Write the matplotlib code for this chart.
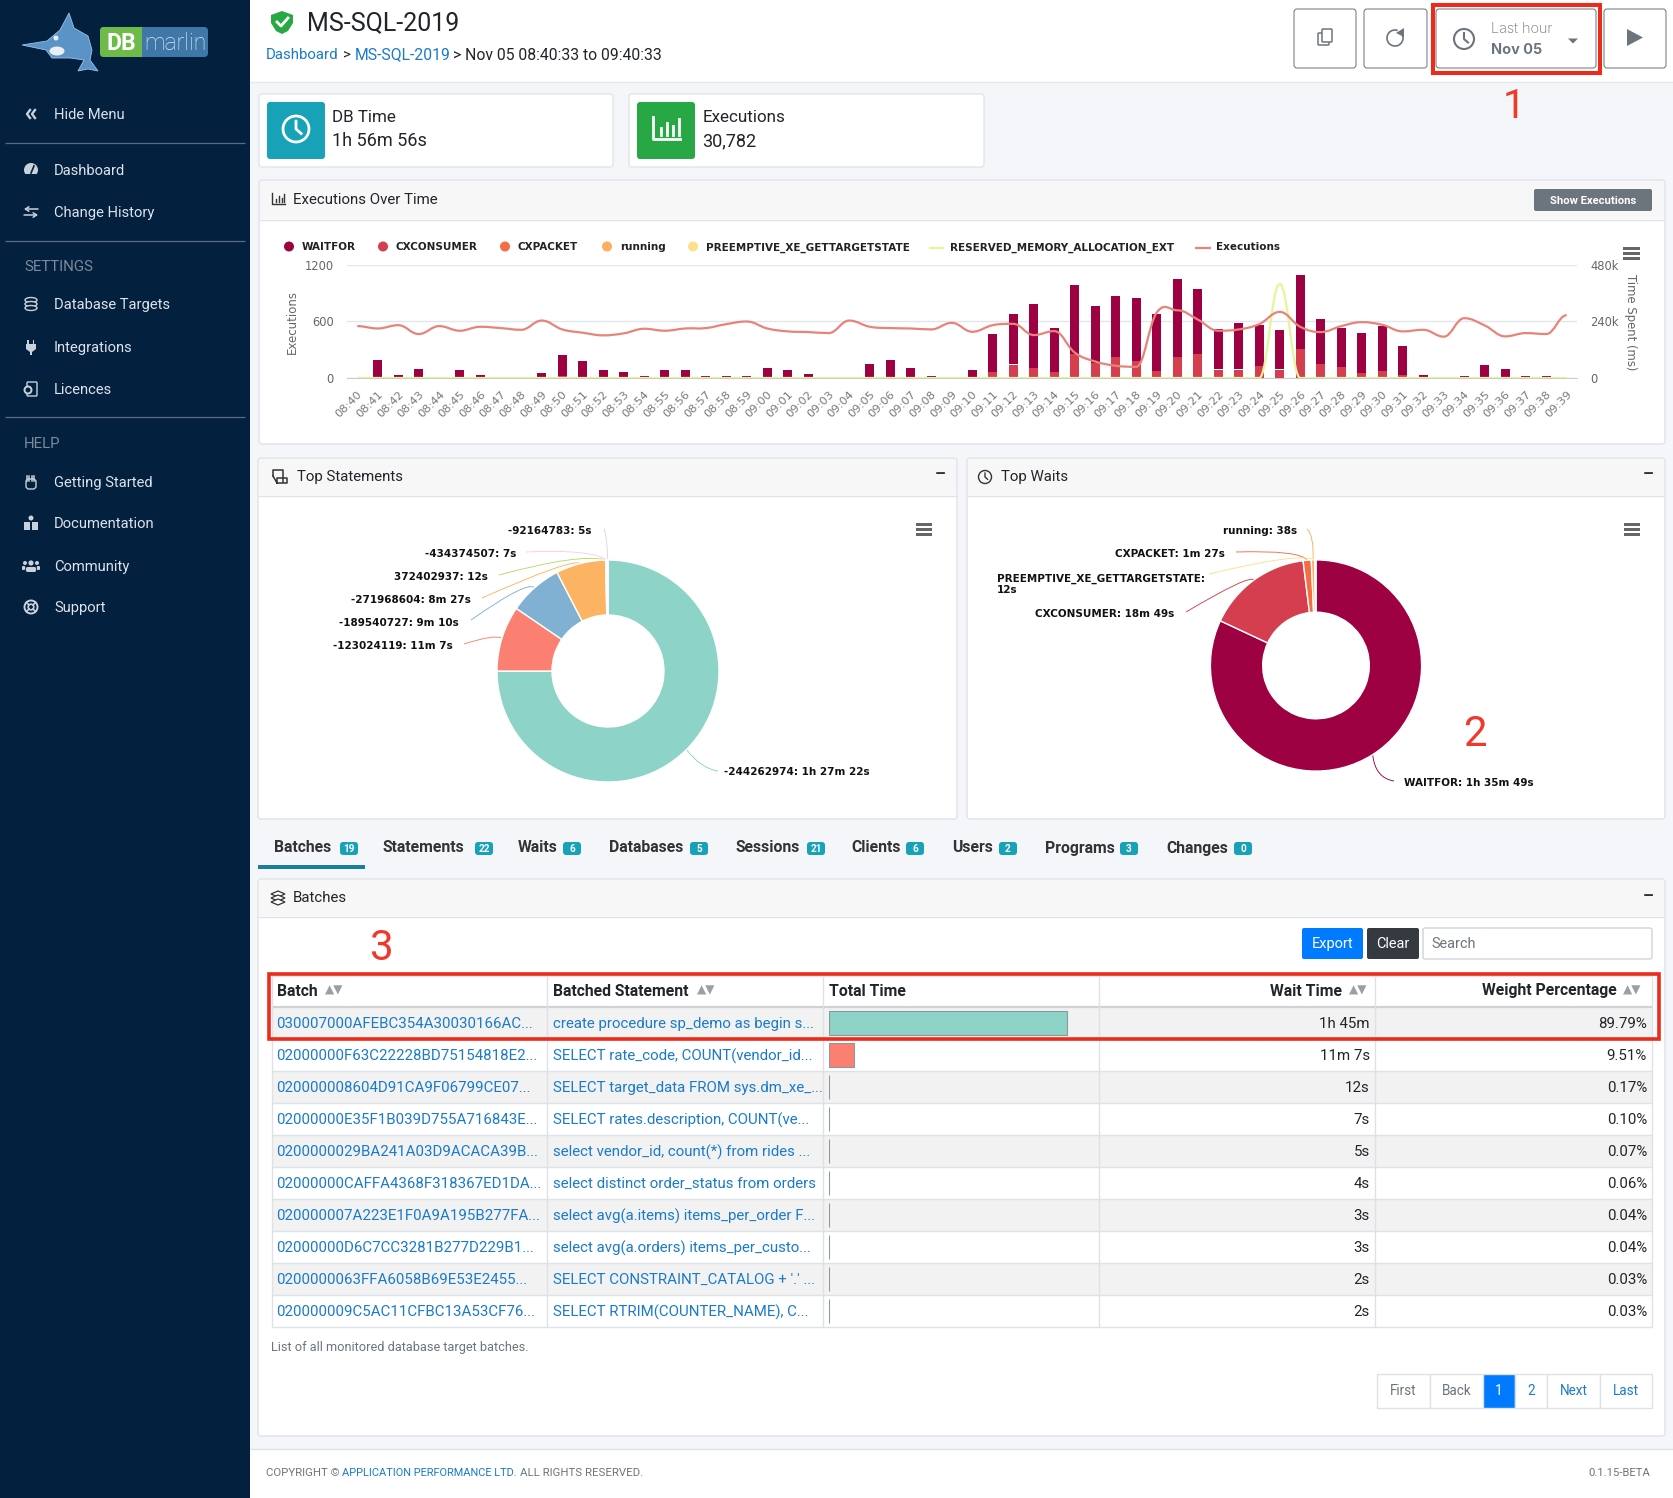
import matplotlib
matplotlib.use("Agg")
import matplotlib.pyplot as plt
import numpy as np
from matplotlib.patches import Rectangle, FancyBboxPatch, Circle, Ellipse, Polygon, PathPatch, Arc
from matplotlib.path import Path

W, H = 1674, 1498
UI = "Roboto"
CHART = "DejaVu Sans"
BLUE = "#1a7bc9"
DARK = "#212529"
SIDE = "#03203f"
ICON = "#c9d1da"

# chart data
minutes = ["08:40", "08:41", "08:42", "08:43", "08:44", "08:45", "08:46", "08:47", "08:48", "08:49",
           "08:50", "08:51", "08:52", "08:53", "08:54", "08:55", "08:56", "08:57", "08:58", "08:59",
           "09:00", "09:01", "09:02", "09:03", "09:04", "09:05", "09:06", "09:07", "09:08", "09:09",
           "09:10", "09:11", "09:12", "09:13", "09:14", "09:15", "09:16", "09:17", "09:18", "09:19",
           "09:20", "09:21", "09:22", "09:23", "09:24", "09:25", "09:26", "09:27", "09:28", "09:29",
           "09:30", "09:31", "09:32", "09:33", "09:34", "09:35", "09:36", "09:37", "09:38", "09:39"]
cxconsumer = [0, 1, 0, 1, 0, 1, 1, 0, 0, 1, 8, 1, 1, 1, 0, 1, 1, 0, 0, 0,
              1, 1, 0, 0, 0, 1, 1, 1, 0, 0, 1, 24, 56, 42, 24, 100, 63, 88, 72, 28,
              88, 100, 36, 36, 49, 36, 122, 58, 45, 20, 28, 11, 0, 0, 0, 1, 1, 0, 0, 0]
waitfor = [0, 72, 14, 34, 0, 30, 9, 0, 0, 17, 90, 68, 30, 21, 10, 30, 30, 10, 10, 10,
           38, 30, 18, 0, 0, 59, 72, 42, 10, 0, 30, 163, 215, 271, 188, 293, 242, 259, 266, 243,
           330, 276, 172, 197, 176, 168, 313, 192, 167, 171, 192, 125, 14, 0, 10, 51, 34, 8, 8, 0]
reserved_memory = [0] * 45 + [400] + [0] * 14
executions = [551, 526, 561, 467, 551, 502, 544, 530, 512, 610, 516, 481, 453, 474, 523, 502, 526, 530, 572, 600,
              526, 495, 488, 477, 610, 544, 530, 526, 516, 586, 491, 561, 575, 456, 498, 270, 175, 130, 119, 695,
              719, 621, 502, 516, 572, 702, 544, 488, 551, 593, 565, 495, 512, 439, 635, 558, 442, 477, 467, 667]
legend_names = ["WAITFOR", "CXCONSUMER", "CXPACKET", "running", "PREEMPTIVE_XE_GETTARGETSTATE"]
legend_colors = ["#9e0142", "#d53e4f", "#f46d43", "#fdae61", "#fee08b"]

stmt_labels = ["-244262974: 1h 27m 22s", "-123024119: 11m 7s", "-189540727: 9m 10s", "-271968604: 8m 27s",
               "372402937: 12s", "-434374507: 7s", "-92164783: 5s"]
stmt_seconds = [5242, 667, 550, 507, 12, 7, 5]
stmt_colors = ["#8dd3c7", "#fb8072", "#80b1d3", "#fdb462", "#b3de69", "#fccde5", "#d9d9d9"]

wait_labels = ["WAITFOR: 1h 35m 49s", "CXCONSUMER: 18m 49s", "CXPACKET: 1m 27s", "running: 38s",
               "PREEMPTIVE_XE_GETTARGETSTATE:\n12s"]
wait_seconds = [5749, 1129, 87, 38, 12]
wait_colors = ["#9e0142", "#d53e4f", "#f46d43", "#fdae61", "#fee08b"]

tab_names = ["Batches", "Statements", "Waits", "Databases", "Sessions", "Clients", "Users", "Programs", "Changes"]
tab_counts = [19, 22, 6, 5, 21, 6, 2, 3, 0]

batches = ["030007000AFEBC354A30030166AC...", "02000000F63C22228BD75154818E2...", "020000008604D91CA9F06799CE07...",
           "02000000E35F1B039D755A716843E...", "0200000029BA241A03D9ACACA39B...", "02000000CAFFA4368F318367ED1DA...",
           "020000007A223E1F0A9A195B277FA...", "02000000D6C7CC3281B277D229B1...", "0200000063FFA6058B69E53E2455...",
           "020000009C5AC11CFBC13A53CF76..."]
statements = ["create procedure sp_demo as begin s...", "SELECT rate_code, COUNT(vendor_id...",
              "SELECT target_data FROM sys.dm_xe_...", "SELECT rates.description, COUNT(ve...",
              "select vendor_id, count(*) from rides ...", "select distinct order_status from orders",
              "select avg(a.items) items_per_order F...", "select avg(a.orders) items_per_custo...",
              "SELECT CONSTRAINT_CATALOG + '.' ...", "SELECT RTRIM(COUNTER_NAME), C..."]
wait_times = ["1h 45m", "11m 7s", "12s", "7s", "5s", "4s", "3s", "3s", "2s", "2s"]
weights = [89.79, 9.51, 0.17, 0.10, 0.07, 0.06, 0.04, 0.04, 0.03, 0.03]
bar_colors = ["#8dd3c7", "#fb8072"] + ["#8a8f94"] * 8

fig = plt.figure(figsize=(W / 100, H / 100), dpi=100, facecolor="#f4f6f9")
bg = fig.add_axes([0, 0, 1, 1])
bg.set_xlim(0, W)
bg.set_ylim(H, 0)
bg.axis("off")


def px_axes(x0, y0, x1, y1):
    ax = fig.add_axes([x0 / W, 1 - y1 / H, (x1 - x0) / W, (y1 - y0) / H])
    ax.patch.set_alpha(0)
    ax.set_zorder(5)
    return ax


def tx(x, y, s, px=15, color=DARK, ha="left", va="center", family=UI, **kw):
    if family != CHART:
        y += 1     # Roboto sits a little high when centred
    return bg.text(x, y, s, fontsize=px * 0.72, color=color, ha=ha, va=va, family=family, **kw)


def rect(x0, y0, x1, y1, fc, ec="none", lw=1, z=1):
    bg.add_patch(Rectangle((x0, y0), x1 - x0, y1 - y0, fc=fc, ec=ec, lw=lw, zorder=z))


def rbox(x0, y0, x1, y1, fc, ec="none", lw=1, r=3, z=1):
    bg.add_patch(FancyBboxPatch((x0 + r, y0 + r), x1 - x0 - 2 * r, y1 - y0 - 2 * r,
                                boxstyle=f"round,pad={r},rounding_size={r}", fc=fc, ec=ec, lw=lw, zorder=z))


def hline(x0, x1, y, color, lw=1, z=2):
    bg.plot([x0, x1], [y, y], color=color, lw=lw, zorder=z, solid_capstyle="butt")


def vline(x, y0, y1, color, lw=1, z=2):
    bg.plot([x, x], [y0, y1], color=color, lw=lw, zorder=z, solid_capstyle="butt")


def clock(x, y, r, color, lw=1.5, z=3):
    bg.add_patch(Circle((x, y), r, fc="none", ec=color, lw=lw, zorder=z))
    bg.plot([x, x, x + r * 0.4], [y - r * 0.6, y, y + r * 0.35], color=color, lw=lw, zorder=z)


def bars_icon(x, y, w, h, color, lw=1.2, z=3):
    bg.plot([x, x, x + w], [y, y + h, y + h], color=color, lw=lw, zorder=z)
    for dx, f in zip((0.3, 0.52, 0.74, 0.96), (0.3, 0.55, 0.4, 0.72)):
        bg.plot([x + w * dx] * 2, [y + h * 0.82, y + h * (0.82 - f)], color=color, lw=lw, zorder=z)


def burger(x0, x1, y, color="#666666"):
    for k in range(3):
        rect(x0, y + k * 5, x1, y + k * 5 + 2.6, color, z=4)


def side_icon(name, x, y):
    if name == "Hide Menu":
        for dx in (-4, 1):
            bg.plot([x + dx + 3, x + dx, x + dx + 3], [y - 4, y, y + 4], color=ICON, lw=1.7, zorder=3)
    elif name == "Dashboard":
        bg.add_patch(Circle((x, y), 7, fc=ICON, zorder=3))
        rect(x - 7, y + 4, x + 7, y + 8, SIDE, z=4)
        bg.plot([x, x + 3], [y + 3, y - 4], color=SIDE, lw=1.2, zorder=4)
    elif name == "Change History":
        for d, a, b in ((-3, x + 7, x - 7), (3, x - 7, x + 7)):
            bg.annotate("", (b, y + d), (a, y + d), zorder=3,
                        arrowprops=dict(arrowstyle="->,head_width=0.16,head_length=0.25", color=ICON, lw=1.1,
                                        shrinkA=0, shrinkB=0))
    elif name == "Database Targets":
        for dy in (-4, 0, 4):
            bg.add_patch(Ellipse((x, y + dy), 12, 5, fc=SIDE, ec=ICON, lw=1, zorder=3))
    elif name == "Integrations":
        bg.add_patch(Polygon([(x - 5, y - 3), (x + 5, y - 3), (x + 5, y + 2), (x + 1, y + 5), (x + 1, y + 8),
                              (x - 1, y + 8), (x - 1, y + 5), (x - 5, y + 2)], fc=ICON, zorder=3))
        rect(x - 3.5, y - 7, x - 2, y - 3, ICON, z=3)
        rect(x + 2, y - 7, x + 3.5, y - 3, ICON, z=3)
    elif name == "Licences":
        rbox(x - 4, y - 7, x + 6, y + 7, "none", ec=ICON, lw=1, r=1, z=3)
        bg.add_patch(Circle((x - 3, y + 1), 3.5, fc=SIDE, ec=ICON, lw=1.4, zorder=4))
    elif name == "Getting Started":
        rbox(x - 5, y - 3, x + 5, y + 7, "none", ec=ICON, lw=1, r=3, z=3)
        for dx in (-4, -1.5, 1, 3.5):
            bg.plot([x + dx] * 2, [y - 6, y - 1], color=ICON, lw=1.1, zorder=3)
    elif name == "Documentation":
        bg.add_patch(Circle((x, y - 5), 2.5, fc=ICON, zorder=3))
        rect(x - 7, y - 1, x - 0.7, y + 7, ICON, z=3)
        rect(x + 0.7, y - 1, x + 7, y + 7, ICON, z=3)
    elif name == "Community":
        for dx, r in ((-6, 2), (6, 2), (0, 2.6)):
            bg.add_patch(Circle((x + dx, y - 3), r, fc=ICON, zorder=3))
        rbox(x - 5, y + 1, x + 5, y + 6, ICON, r=1.5, z=3)
        rbox(x - 9, y, x - 5.8, y + 4, ICON, r=1, z=3)
        rbox(x + 5.8, y, x + 9, y + 4, ICON, r=1, z=3)
    elif name == "Support":
        bg.add_patch(Circle((x, y), 6.5, fc="none", ec=ICON, lw=1.4, zorder=3))
        bg.add_patch(Circle((x, y), 2.8, fc="none", ec=ICON, lw=1.2, zorder=3))
        for a in (45, 135, 225, 315):
            c, s = np.cos(np.radians(a)), np.sin(np.radians(a))
            bg.plot([x + 2.8 * c, x + 6.5 * c], [y + 2.8 * s, y + 6.5 * s], color=ICON, lw=1.2, zorder=3)


def smooth_line(ax, xs, ys, color, lw, z=5):
    # bezier through the values, flat at each local peak so nothing overshoots
    slopes = []
    for i in range(len(xs)):
        if i == 0 or i == len(xs) - 1:
            slopes.append(0)
        elif (ys[i] - ys[i - 1]) * (ys[i + 1] - ys[i]) <= 0:
            slopes.append(0)
        else:
            slopes.append((ys[i + 1] - ys[i - 1]) / 2)
    verts, codes = [(xs[0], ys[0])], [Path.MOVETO]
    for i in range(len(xs) - 1):
        verts += [(xs[i] + 0.4, ys[i] + slopes[i] * 0.4), (xs[i + 1] - 0.4, ys[i + 1] - slopes[i + 1] * 0.4),
                  (xs[i + 1], ys[i + 1])]
        codes += [Path.CURVE4] * 3
    ax.add_patch(PathPatch(Path(verts, codes), fc="none", ec=color, lw=lw, zorder=z))


# sidebar
rect(0, 0, 250, H, SIDE, z=1)
bg.add_patch(Polygon([(22, 45), (47, 41), (60, 30), (69, 13), (74, 28), (88, 36), (92, 50), (90, 60), (98, 71),
                      (88, 69), (78, 71), (84, 60), (70, 58), (52, 58), (46, 50)],
                     fc="#5b93c7", ec="#9cc3e6", lw=0.6, zorder=2))
bg.add_patch(Ellipse((57, 51), 15, 9, fc="#e8eef4", zorder=3))
bg.add_patch(Circle((56, 38), 2.5, fc="#e8eef4", zorder=3))
rbox(100, 27, 208, 57, "#3f78a8", r=4, z=2)
rbox(100, 27, 142, 57, "#6fbb4a", r=4, z=3)
rect(136, 27, 142, 57, "#6fbb4a", z=3)
tx(121, 42, "DB", 23, "white", ha="center", weight="bold", zorder=4)
tx(175, 42, "marlin", 23, "#dbe8f2", ha="center", weight="light", zorder=4)
menu = [("Hide Menu", 114), ("Dashboard", 170), ("Change History", 212), ("Database Targets", 304),
        ("Integrations", 347), ("Licences", 389), ("Getting Started", 482), ("Documentation", 523),
        ("Community", 566), ("Support", 607)]
for name, y in menu:
    tx(54, y, name, 14.7, "#dde3ea", zorder=3)
    side_icon(name, 31, y)
for y in (143, 241, 417):
    hline(5, 245, y, "#5a6b7f", 0.9, z=3)
tx(24, 266, "SETTINGS", 15, "#7d8a9a", zorder=3)
tx(24, 443, "HELP", 15, "#7d8a9a", zorder=3)

# top bar
rect(250, 0, W, 82, "white", z=1)
hline(250, W, 82, "#e6e8eb", 1)
bg.add_patch(Polygon([(282, 11), (293, 15), (293, 23), (288, 31), (282, 34), (276, 31), (271, 23), (271, 15)],
                     fc="#28a745", zorder=3))
bg.plot([277, 281, 288], [22, 26, 18], color="white", lw=2, zorder=4)
tx(307, 22, "MS-SQL-2019", 25)
tx(266, 54, "Dashboard", 15, BLUE)
tx(343, 54, ">", 15)
tx(355, 54, "MS-SQL-2019", 15.7, BLUE)
tx(453, 54, "> Nov 05 08:40:33 to 09:40:33", 15.7)
for x0, x1 in ((1294, 1356), (1364, 1427), (1436, 1596), (1604, 1666)):
    rbox(x0, 9, x1, 68, "white", ec="#6b7075", lw=0.7, r=3, z=2)
rect(1433.5, 4.5, 1600, 72.5, "none", ec="#ee2a1a", lw=2.9, z=5)
rbox(1318, 33, 1329, 45, "white", ec="#6c757d", lw=1.1, r=1, z=3)
rbox(1322, 29, 1332, 42, "white", ec="#6c757d", lw=1.1, r=1, z=3)
bg.add_patch(Arc((1395, 38), 16, 16, theta1=-30 + 0, theta2=270 + 20, color="#6c757d", lw=1.2, zorder=3))
bg.add_patch(Polygon([(1404, 28), (1404, 37), (1396, 33)], fc="#6c757d", zorder=3))
clock(1464, 39, 10, "#6c757d")
tx(1491, 28, "Last hour", 14.5, "#6c757d", family="Inter", weight="light", zorder=3)
tx(1491, 49, "Nov 05", 14.5, "#6c757d", family="Inter", weight="bold", zorder=3)
bg.add_patch(Polygon([(1568, 38.5), (1578, 38.5), (1573, 43.5)], fc="#6c757d", zorder=3))
bg.add_patch(Polygon([(1627, 29), (1627, 46), (1643, 37.5)], fc="#6c757d", zorder=3))
tx(1514, 105, "1", 40, "#f0392b", ha="center", zorder=3)

# stat cards
for x0, x1, icon0, icon1, fc, name, val in ((259, 613, 267, 325, "#17a2b8", "DB Time", "1h 56m 56s"),
                                            (629, 984, 637, 695, "#28a745", "Executions", "30,782")):
    rbox(x0, 94, x1, 167, "white", ec="#e2e5e9", r=3, z=1)
    rbox(icon0, 102, icon1, 159, fc, r=3, z=2)
    tx(icon1 + 7.5, 116, name, 17, zorder=3)
    tx(icon1 + 7.5, 140.5, val, 18, zorder=3)
clock(296, 129, 13, "white", lw=2)
bars_icon(653, 117, 27, 22, "white", lw=2)

# chart card
rbox(259, 180, 1665, 444, "white", ec="#dfe3e7", r=3, z=1)
rect(260, 181, 1664, 219, "#f7f7f7", z=2)
hline(259, 1665, 219.5, "#dfe3e7", 1)
bars_icon(272, 193, 13, 11, "#333333", lw=1)
tx(293, 199.5, "Executions Over Time", 15, zorder=3)
rbox(1534, 189, 1652, 211, "#6c757d", r=2, z=3)
tx(1593, 199.5, "Show Executions", 11.3, "white", ha="center", weight="bold", zorder=4)

legend_x = [289, 383, 505, 607, 693]
for name, color, x in zip(legend_names, legend_colors, legend_x):
    bg.add_patch(Ellipse((x, 246.5), 10, 10, fc=color, zorder=3))
    tx(x + 13, 247.5, name, 10.4, "#222222", family=CHART, weight="bold", zorder=3)
hline(929, 944, 247.5, "#e6f598", 1.6, z=3)
tx(950, 247.5, "RESERVED_MEMORY_ALLOCATION_EXT", 10.4, "#222222", family=CHART, weight="bold", zorder=3)
hline(1195, 1211, 247.5, "#e8837a", 1.6, z=3)
tx(1216, 247.5, "Executions", 10.4, "#222222", family=CHART, weight="bold", zorder=3)
burger(1623, 1640, 247)

pos = list(range(len(minutes)))
ax_t = px_axes(347, 265, 1577, 378)
ax_t.set_xlim(-0.5, 59.5)
ax_t.set_ylim(0, 480)
ax_t.bar(pos, cxconsumer, width=0.44, color="#d53e4f", zorder=3)
ax_t.bar(pos, waitfor, width=0.44, bottom=[c + 1.5 if c else 0 for c in cxconsumer], color="#9e0142", zorder=3)
smooth_line(ax_t, pos, reserved_memory, "#e6f598", 1.6, z=4)
ax_t.set_yticks([0, 240, 480])
ax_t.set_yticklabels(["0", "240k", "480k"])
ax_t.yaxis.tick_right()
ax_t.tick_params(axis="y", length=0, labelsize=8.3, labelcolor="#666666", pad=9.5)
ax_t.set_xticks(pos)
ax_t.set_xticklabels(minutes, rotation=45, ha="right", rotation_mode="anchor", fontsize=8.2, color="#777777")
ax_t.tick_params(axis="x", length=0, pad=8)
ax_t.grid(axis="y", color="#e3e6ea", lw=1, zorder=0)
for s in ("top", "left", "right"):
    ax_t.spines[s].set_visible(False)
ax_t.spines["bottom"].set_color("#cccccc")

ax_e = px_axes(347, 265, 1577, 378)
ax_e.set_xlim(-0.5, 59.5)
ax_e.set_ylim(0, 1200)
smooth_line(ax_e, pos, executions, "#e8837a", 1.6)
ax_e.set_yticks([0, 600, 1200])
ax_e.tick_params(axis="y", length=0, labelsize=8.3, labelcolor="#666666", pad=9.5)
ax_e.set_xticks([])
for s in ax_e.spines.values():
    s.set_visible(False)
tx(292, 322, "Executions", 11.8, "#666666", ha="center", family=CHART, rotation=90, zorder=3)
tx(1631, 322, "Time Spent (ms)", 11.6, "#666666", ha="center", family=CHART, rotation=270, zorder=3)

# pie cards
for x0, x1, title, tx0 in ((258, 957, "Top Statements", 297), (967, 1665, "Top Waits", 1001)):
    rbox(x0, 458, x1, 819, "white", ec="#dfe3e7", r=3, z=1)
    rect(x0 + 1, 459, x1 - 1, 495, "#f7f7f7", z=2)
    hline(x0, x1, 495.5, "#dfe3e7", 1)
    tx(tx0, 476, title, 15, zorder=3)
    tx(x1 - 17, 474, "–", 17, "#333333", ha="center", weight="bold", zorder=3)
# scroll icon
bg.plot([273, 273, 283, 283], [476, 470, 470, 482], color="#333333", lw=1.1, zorder=3)
bg.plot([277, 287, 287, 277, 277, 273], [483, 483, 478, 478, 483, 476], color="#333333", lw=1.1, zorder=3)
clock(985, 477, 6.5, "#333333", lw=1)
burger(916, 932, 523)
burger(1624, 1640, 523)


def donut(cx, cy, outer, inner, values, colors, labels, lab_x, lab_y, lab_ha, ctrl, ends):
    ax = px_axes(cx - outer, cy - outer, cx + outer, cy + outer)
    wedges, _ = ax.pie(values, colors=colors, startangle=90, counterclock=False, radius=1,
                       wedgeprops=dict(width=1 - inner / outer, edgecolor="white", linewidth=1))
    ax.set_xlim(-1, 1)
    ax.set_ylim(-1, 1)
    for w, color, lab, x, y, ha, c, end in zip(wedges, colors, labels, lab_x, lab_y, lab_ha, ctrl, ends):
        a = np.radians((w.theta1 + w.theta2) / 2)
        start = (cx + outer * np.cos(a), cy - outer * np.sin(a))
        tx(x, y, lab, 10.4, "#111111", ha=ha, va="center", family=CHART, weight="bold", zorder=3, linespacing=1.15)
        bg.add_patch(PathPatch(Path([start, c, end], [Path.MOVETO, Path.CURVE3, Path.CURVE3]),
                               fc="none", ec=color, lw=0.65, zorder=3))


donut(608, 671, 111, 56, stmt_seconds, stmt_colors, stmt_labels,
      [724, 453, 459, 471, 488, 516, 592],
      [772, 646, 623, 600, 577, 554, 531],
      ["left", "right", "right", "right", "right", "right", "right"],
      [(700, 768), (495, 634), (528, 580), (572, 558), (580, 553), (590, 549), (607, 536)],
      [(718, 771), (464, 644), (471, 620), (482, 598), (499, 575), (526, 552), (604, 529)])
donut(1316, 665.5, 105.6, 53.3, wait_seconds, wait_colors, wait_labels,
      [1404, 1174, 1225, 1297, 997],
      [783, 614, 554, 531, 584],
      ["left", "right", "right", "right", "left"],
      [(1375, 778), (1250, 574), (1300, 550), (1314, 535), (1300, 552)],
      [(1394, 781), (1186, 612), (1236, 552), (1307, 529), (1209, 574)])
tx(1475, 734, "2", 42, "#f0392b", ha="center", zorder=3)

# tabs
tab_x = [274, 383, 518, 609, 736, 851, 952, 1045, 1166]
badge_x = [349, 484, 572, 699, 816, 915, 1008, 1129, 1243]
for name, n, x, bx in zip(tab_names, tab_counts, tab_x, badge_x):
    tx(x, 847, name, 15.8, "#333333", weight="bold", zorder=3)
    rbox(bx - 9, 842, bx + 9, 855, "#17a2b8", r=3, z=3)
    tx(bx, 847.5, str(n), 10, "white", ha="center", weight="bold", zorder=4)
rect(258, 865, 365, 869, "#1b7ea0", z=3)

# table card
rbox(258, 879, 1665, 1436, "white", ec="#dfe3e7", r=3, z=1)
rect(259, 880, 1664, 916, "#f7f7f7", z=2)
hline(258, 1665, 916.5, "#dfe3e7", 1)
tx(293, 897, "Batches", 15, zorder=3)
for dy in (-4, 0, 4):
    bg.add_patch(Polygon([(271, 898 + dy), (278, 895 + dy), (285, 898 + dy), (278, 901 + dy)], fc="white",
                         ec="#333333", lw=0.9, zorder=3))
tx(1648, 895, "–", 17, "#333333", ha="center", weight="bold", zorder=3)
rbox(1302, 928, 1363, 959, "#007bff", r=2, z=2)
tx(1332.5, 943, "Export", 14.5, "white", ha="center", zorder=3)
rbox(1367, 928, 1419, 959, "#343a40", r=2, z=2)
tx(1393, 943, "Clear", 14.5, "white", ha="center", zorder=3)
rbox(1423, 928, 1652, 959, "white", ec="#ced4da", r=2, z=2)
tx(1431, 943, "Search", 14.5, "#6c757d", zorder=3)
tx(382, 947, "3", 42, "#f0392b", ha="center", zorder=3)

cols = [272, 547, 823, 1099, 1375, 1652]
row_h = 32
top = 1007
for i in range(10):
    rect(272, top + i * row_h, 1652, top + (i + 1) * row_h, "#f2f2f2" if i % 2 == 0 else "white", z=2)
    hline(272, 1652, top + (i + 1) * row_h, "#dee2e6", 1, z=3)
    y = top + i * row_h + 16
    tx(276.5, y, batches[i], 15, BLUE, zorder=4)
    tx(553, y, statements[i], 15, BLUE, zorder=4)
    tx(1370, y, wait_times[i], 15, ha="right", zorder=4)
    tx(1647, y, f"{weights[i]:.2f}%", 15, ha="right", zorder=4)
hline(272, 1652, 976, "#dee2e6", 1, z=3)
hline(272, 1652, top, "#cfd3d7", 1.6, z=3)
for x in cols:
    vline(x, 976, top + 10 * row_h, "#dee2e6", 1, z=3)
tx(277, 990, "Batch", 15.7, weight="bold", zorder=4)
tx(553, 990, "Batched Statement", 15.7, weight="bold", zorder=4)
tx(829, 990, "Total Time", 15.7, weight="bold", zorder=4)
tx(1342, 990, "Wait Time", 15.7, ha="right", weight="bold", zorder=4)
tx(1616.5, 990, "Weight Percentage", 15.7, ha="right", weight="bold", zorder=4)
for x in (325, 697, 1349, 1623):
    tx(x, 990, "▲▼", 12, "#9a9fa5", family="DejaVu Sans", zorder=4)

ax_b = px_axes(829, top, 1094, top + 10 * row_h)
ax_b.set_xlim(0, 100)
ax_b.set_ylim(9.5, -0.5)
ax_b.barh(range(10), weights, height=0.72, color=bar_colors, edgecolor="#8a9a98", linewidth=0.8)
ax_b.axis("off")

rect(269, 974, 1659, 1039, "none", ec="#ee2a1a", lw=2.6, z=6)

tx(271, 1347, "List of all monitored database target batches.", 12.8, "#6c757d", zorder=3)
page_edges = [1377, 1430, 1483, 1515, 1547, 1600, 1652]
page_names = ["First", "Back", "1", "2", "Next", "Last"]
for k, name in enumerate(page_names):
    active = name == "1"
    rect(page_edges[k], 1374, page_edges[k + 1], 1408, "#007bff" if active else "white", ec="#dee2e6", z=2)
    color = "white" if active else ("#6c757d" if name in ("First", "Back") else BLUE)
    tx((page_edges[k] + page_edges[k + 1]) / 2, 1390, name, 13.5, color, ha="center", zorder=3)

# footer
rect(250, 1449, W, H, "white", z=1)
hline(250, W, 1449, "#dee2e6", 1)
tx(266, 1472, "COPYRIGHT ©", 11.4, "#6c757d", zorder=3)
tx(342, 1472, "APPLICATION PERFORMANCE LTD.", 11, BLUE, zorder=3)
tx(520, 1472, "ALL RIGHTS RESERVED.", 11.4, "#6c757d", zorder=3)
tx(1650, 1472, "0.1.15-BETA", 11.2, "#6c757d", ha="right", zorder=3)

fig.savefig("out.png", dpi=100, facecolor=fig.get_facecolor())
